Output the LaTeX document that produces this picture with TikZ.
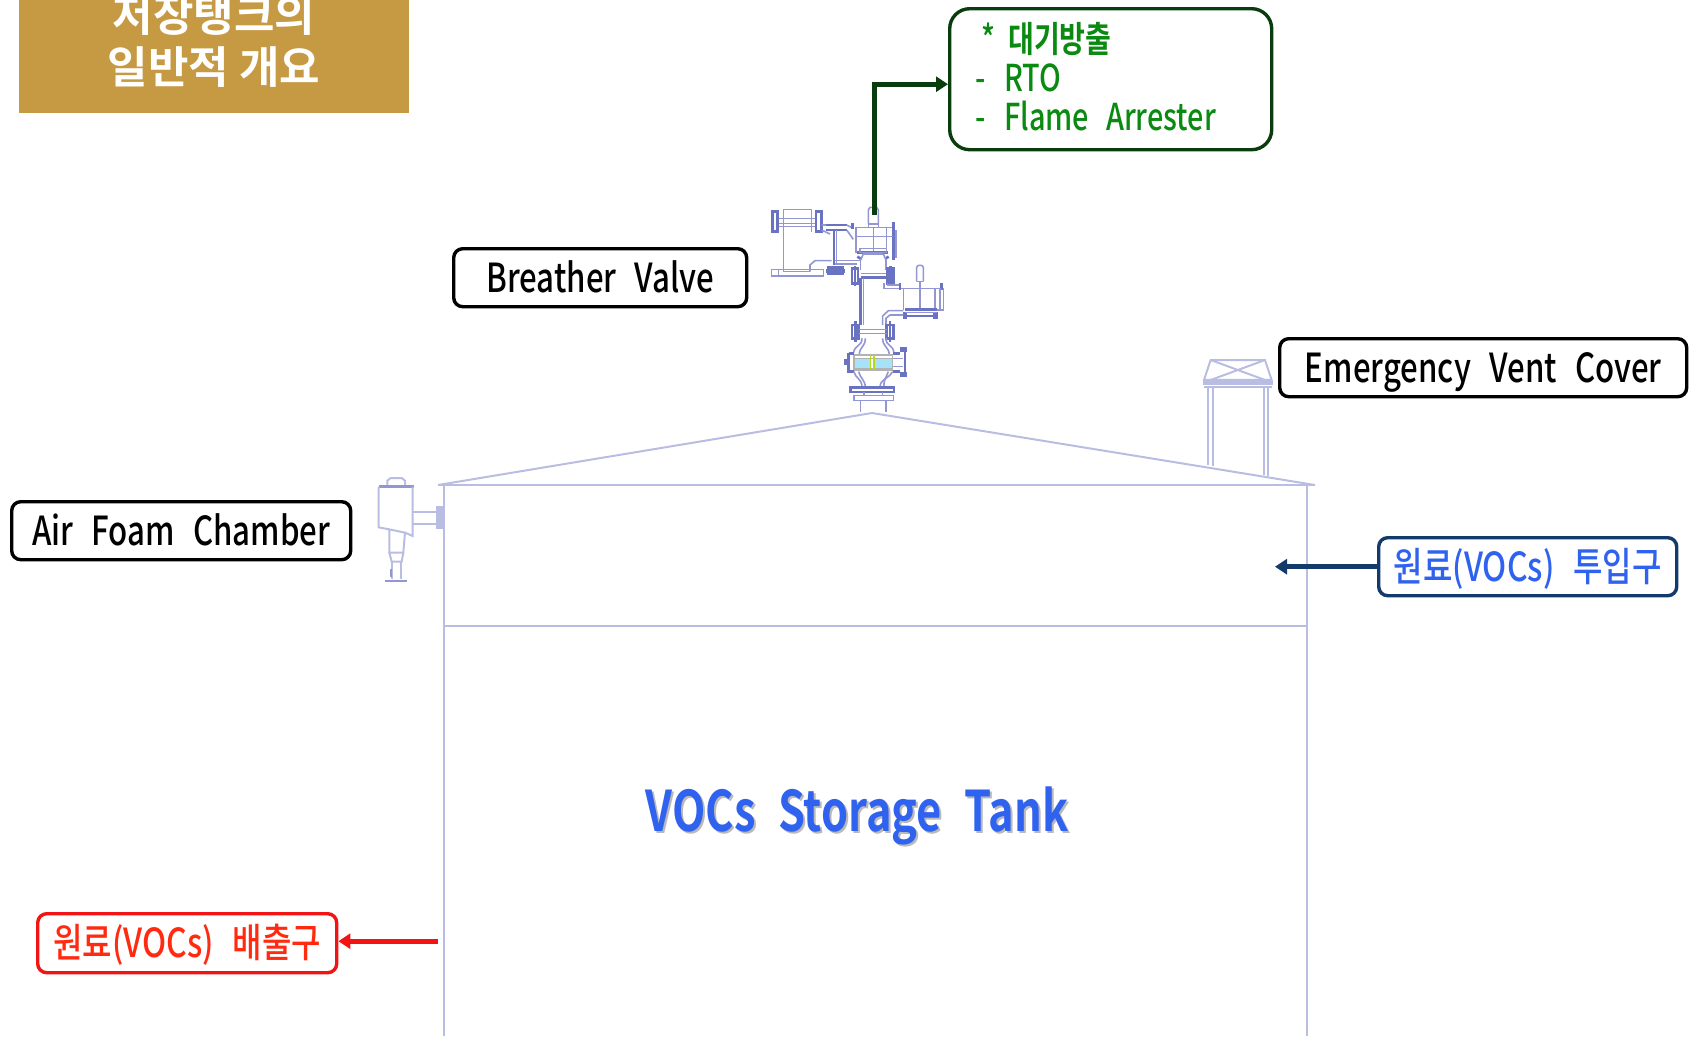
\documentclass[tikz,border=0pt]{standalone}
\usepackage{fontspec}
\setmainfont{Noto Sans CJK KR}
\newfontfamily\lab[FakeStretch=0.78,WordSpace=2.6]{Noto Sans CJK KR Medium}
\newfontfamily\labk[FakeStretch=0.80,WordSpace=2.6]{Noto Sans CJK KR Medium}
\newfontfamily\labb[FakeStretch=0.78,WordSpace=2.6]{Noto Sans CJK KR Bold}
\newfontfamily\tankf[FakeStretch=0.775,WordSpace=2.3]{Noto Sans CJK KR Bold}
\newfontfamily\ttl{Noto Sans CJK KR Bold}
\usetikzlibrary{arrows.meta}
\definecolor{gold}{HTML}{C69943}
\definecolor{tankline}{HTML}{BABDE2}
\definecolor{valve}{HTML}{9297D4}
\definecolor{valved}{HTML}{6A72C2}
\definecolor{grn}{HTML}{0A3D0E}
\definecolor{grntxt}{HTML}{0B8A12}
\definecolor{navy}{HTML}{123A6B}
\definecolor{bluetxt}{HTML}{2F62EE}
\definecolor{redc}{HTML}{F21414}
\definecolor{redtxt}{HTML}{FF2A10}
\tikzset{
  x=1pt,y=-1pt,
  lbox/.style={draw=black,line width=3.4pt,rounded corners=9pt,inner sep=0pt,font=\lab\fontsize{40}{40}\selectfont,text=black,anchor=north west},
  oneline/.style={text height=29pt,text depth=0pt},
  tank/.style={draw=tankline,line width=2pt},
  vl/.style={draw=valve,line width=1.6pt},
  vh/.style={draw=valved,line width=2.6pt},
  conn/.style={line width=5pt,-{Triangle[length=12pt,width=15pt]}},
}
\begin{document}
\begin{tikzpicture}
\useasboundingbox (0,0) rectangle (1689,1036);
% title
\fill[gold] (19,0) rectangle (409,113);
\begin{scope}
\clip (0,0) rectangle (1689,1036);
\node[text=white,font=\ttl\fontsize{44}{44}\selectfont] (title1) at (214,15) {저장탱크의};
\node[text=white,font=\ttl\fontsize{44}{44}\selectfont] (title2) at (214,67) {일반적 개요};
\end{scope}
% tank
\draw[tank] (438,485) -- (872,413) -- (1315,485);
\draw[tank] (438,485) -- (1315,485);
\draw[tank] (444,485) -- (444,1036);
\draw[tank] (1307,485) -- (1307,1036);
\draw[tank] (444,625.5) -- (1307,625.5);
% emergency vent
\begin{scope}[shift={(1180,330)},x=0.3333pt,y=-0.3333pt]
\draw[tank] (92,90) -- (255,90) -- (275,150) -- (72,150) -- cycle;
\draw[tank] (92,90) -- (255,150) (255,90) -- (92,150);
\draw[tank,fill=tankline] (72,152) rectangle (275,162);
\draw[tank] (72,172) -- (275,172);
\draw[tank] (85,172) -- (85,405) (100,172) -- (100,408) (252,172) -- (252,435) (265,172) -- (265,437);
\end{scope}
% air foam chamber
\begin{scope}[shift={(360,460)},x=0.3333pt,y=-0.3333pt]
\draw[tank] (82,80) -- (82,62) -- (92,54) -- (125,54) -- (135,62) -- (135,80);
\draw[tank,line width=2.6pt,draw=valve] (56,80) -- (162,80);
\draw[tank] (56,80) -- (56,202) -- (88,208) -- (135,218) -- (158,228) -- (158,80);
\draw[tank] (158,155) -- (232,155) (158,192) -- (232,192);
\draw[tank,fill=tankline] (232,142) rectangle (250,205);
\draw[tank] (88,208) -- (88,278) -- (130,278) -- (135,218);
\draw[tank] (88,278) -- (95,305) -- (125,305) -- (130,278);
\draw[tank] (97,305) -- (97,358) (122,305) -- (122,358);
\draw[valve,line width=2.6pt] (76,363) -- (142,363);
\draw[valve,line width=1.8pt] (92,328) -- (92,350);
\end{scope}
% breather valve assembly
\begin{scope}[shift={(740,190)},x=0.3333pt,y=-0.3333pt]
% left housing
\draw[vl] (130,58) -- (215,58) (130,58) -- (130,245) (215,58) -- (215,125);
\draw[vl] (112,85) -- (228,85) (112,100) -- (228,100) (112,110) -- (228,110);
\draw[vh] (98,65) rectangle (113,125);
\draw[vh] (228,65) rectangle (245,125);
\draw[vl] (95,238) rectangle (250,258);
\draw[vl] (115,238) -- (115,258) (130,245) -- (210,245);
\draw[vl] (210,245) -- (210,225) -- (225,212) -- (275,212);
\draw[vl] (245,105) -- (260,105) (245,120) -- (270,132);
% small vertical spindle
\draw[vh] (258,105) -- (320,105) (258,120) -- (320,120);
\draw[vh] (282,120) -- (282,225);
\draw[vl] (290,120) -- (290,225);
\fill[valved] (258,238) rectangle (315,248);
\draw[vh] (262,232) -- (312,232) (262,252) -- (312,252);
\draw[vl] (320,120) -- (340,148) (320,105) -- (340,115);
\draw[vl] (285,212) -- (360,212) (285,222) -- (350,222);
% upper valve box
\draw[vl] (348,112) -- (458,112) (348,112) -- (348,190) (440,112) -- (440,190) (458,112) -- (458,190);
\draw[vh] (337,100) -- (337,118);
\draw[vh] (460,96) -- (460,210);
\draw[vl] (468,120) -- (468,205);
\draw[vl] (385,102) -- (385,60) -- (390,52) -- (410,52) -- (415,60) -- (415,102);
\draw[vl] (385,102) rectangle (415,112);
\draw[vl] (400,112) -- (400,190) (345,140) -- (460,140);
\draw[vh] (350,188) -- (445,188);
\draw[vl] (360,175) rectangle (440,188);
\draw[vh] (352,200) -- (362,206) (436,206) -- (446,200);
% centre pipe
\draw[vl] (370,192) -- (430,192) (362,210) -- (362,240) (438,210) -- (438,240);
\draw[vl] (370,192) -- (362,210) (430,192) -- (438,210);
\draw[vh] (362,262) -- (440,262);
\draw[vl] (362,250) -- (440,250);
\draw[vh] (336,235) rectangle (354,280);
\draw[vh] (442,235) rectangle (460,280);
\draw[vh] (345,228) -- (345,288) (451,228) -- (451,288);
\draw[vh] (362,265) -- (362,405);
\draw[vl] (370,265) -- (370,405);
% right valve box
\draw[vl] (432,280) -- (432,295) -- (480,295) -- (605,295);
\draw[vl] (442,280) -- (442,285) -- (480,285);
\draw[vh] (480,278) -- (480,300) (605,278) -- (605,300);
\draw[vl] (490,295) -- (490,360) (585,295) -- (585,360) (600,295) -- (600,360) (610,295) -- (610,360) -- (590,360);
\draw[vl] (530,275) -- (530,232) -- (535,226) -- (545,226) -- (550,232) -- (550,275);
\draw[vl] (530,275) -- (550,275) (540,275) -- (540,360);
\draw[vh] (495,358) -- (590,358) (495,378) -- (590,378);
\fill[valved] (490,365) rectangle (502,386);
\fill[valved] (580,365) rectangle (595,386);
\draw[vl] (495,368) -- (590,368);
\draw[vl] (490,362) -- (445,362) -- (428,378) -- (428,405);
\draw[vl] (490,375) -- (450,375) -- (438,385) -- (438,405);
% lower flanges
\draw[vh] (336,405) rectangle (356,445);
\draw[vh] (440,405) rectangle (460,445);
\draw[vh] (346,392) -- (346,456) (450,392) -- (450,456);
\draw[vl] (356,418) -- (440,418) (356,430) -- (440,430);
\draw[vl] (366,445) .. controls (366,470) and (345,462) .. (340,490);
\draw[vl] (376,445) .. controls (376,470) and (360,470) .. (358,492);
\draw[vl] (428,445) .. controls (428,470) and (445,470) .. (448,492);
\draw[vl] (438,445) .. controls (438,470) and (460,462) .. (462,490);
% flame arrester body
\fill[cyan!35] (345,505) rectangle (392,535);
\fill[cyan!35] (405,505) rectangle (455,535);
\draw[gray!60,line width=1.6pt] (342,495) rectangle (458,540);
\draw[gray!60,line width=1.4pt] (342,505) -- (458,505) (342,535) -- (458,535);
\draw[yellow!70!green,line width=1.4pt] (392,495) -- (392,540) (402,495) -- (402,540);
\draw[vh] (326,490) -- (326,545) -- (342,545) (326,490) -- (342,490);
\fill[valved] (312,508) rectangle (328,524);
\draw[vh] (460,490) -- (480,490) (460,545) -- (480,545) (480,482) -- (495,482) -- (495,560);
\draw[vl] (460,505) -- (490,505) (460,530) -- (490,530);
\fill[valved] (480,470) rectangle (500,486);
\fill[valved] (480,545) rectangle (500,562);
% lower neck
\draw[vl] (342,545) .. controls (345,565) and (366,565) .. (366,592);
\draw[vl] (356,545) .. controls (360,565) and (376,570) .. (376,592);
\draw[vl] (458,545) .. controls (450,565) and (420,565) .. (420,592);
\draw[vl] (445,545) .. controls (440,560) and (430,570) .. (432,592);
\draw[vh] (332,592) rectangle (462,606);
\draw[vl] (342,616) rectangle (460,632);
\draw[vl] (362,632) -- (362,665) (438,632) -- (438,665);
\draw[vl] (372,606) -- (372,616) (428,606) -- (428,616);
\end{scope}
% label boxes
\node[lbox,oneline,minimum width=293pt,minimum height=58pt] (bv) at (452,247) {Breather Valve};
\node[lbox,oneline,minimum width=407pt,minimum height=58pt] (ev) at (1278,337) {Emergency Vent Cover};
\node[lbox,oneline,minimum width=339pt,minimum height=58pt] (af) at (10,500) {Air Foam Chamber};
\node[lbox,oneline,draw=navy,text=bluetxt,minimum width=298pt,minimum height=58pt,font=\labk\fontsize{40}{40}\selectfont] (inlet) at (1377,536) {원료(VOCs) 투입구};
\node[lbox,oneline,draw=redc,text=redtxt,minimum width=299pt,minimum height=59pt,font=\labk\fontsize{40}{40}\selectfont] (outlet) at (36,912) {원료(VOCs) 배출구};
\node[lbox,draw=grn,minimum width=322pt,minimum height=141pt,rounded corners=20pt] (gb) at (948,7) {};
\node[anchor=north west,inner sep=0pt,text=grntxt,align=left,font=\lab\fontsize{37}{39}\selectfont] (gbtext) at (975,22.5) {\makebox[33pt][l]{\,*}{\labb\fontsize{36}{39}\selectfont 대기방출}\\\makebox[29pt][l]{-}RTO\\\makebox[29pt][l]{-}Flame Arrester};
% storage text
\node[text=gray!55,font=\tankf\fontsize{56}{56}\selectfont] (tanks) at (859,818) {VOCs Storage Tank};
\node[text=bluetxt,font=\tankf\fontsize{56}{56}\selectfont] (tankt) at (857,816) {VOCs Storage Tank};
% connectors
\coordinate (vtop) at (874,215);
\coordinate (gbin) at ([yshift=-5pt]gb.west);
\coordinate (intip) at (1275,0 |- inlet.west);
\coordinate (outtip) at ([yshift=2pt]outlet.east);
\coordinate (outend) at (438,0 |- outtip);
\draw[conn,draw=grn] (vtop) |- (gbin);
\draw[conn,draw=navy] (inlet.west) -- (intip);
\draw[conn,draw=redc] (outend) -- (outtip);
\end{tikzpicture}
\end{document}
